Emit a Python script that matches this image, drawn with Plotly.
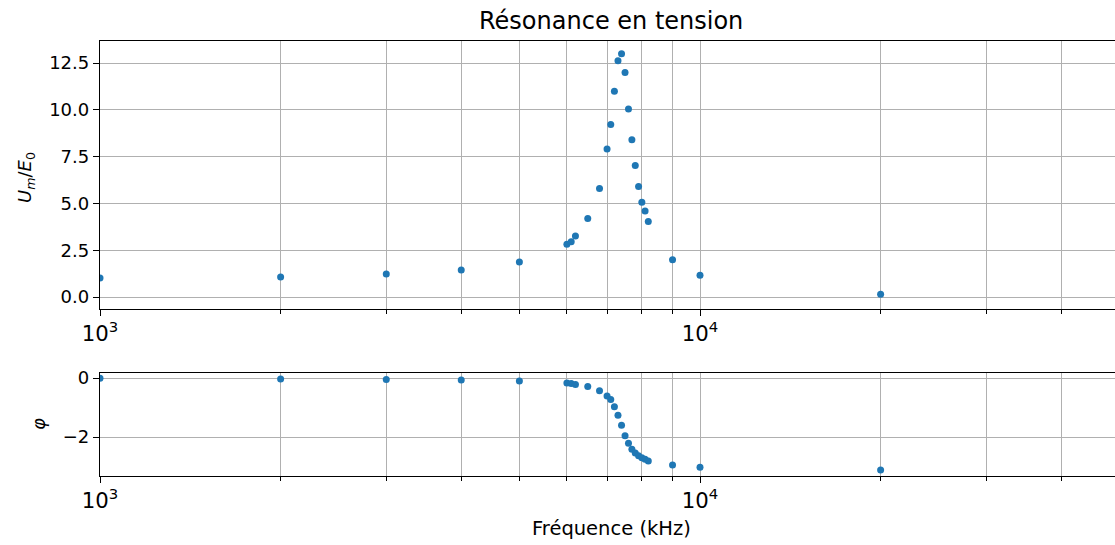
import plotly.graph_objects as go

# Frequencies (Hz)
freq = [1000, 2000, 3000, 4000, 5000, 6000, 6100, 6200, 6500, 6800, 7000, 7100,
        7200, 7300, 7400, 7500, 7600, 7700, 7800, 7900, 8000, 8100, 8200,
        9000, 10000, 20000]
# Um/E0
ratio = [1.01, 1.07, 1.23, 1.44, 1.87, 2.82, 2.95, 3.26, 4.20, 5.80, 7.91, 9.22,
         11.0, 12.62, 13.0, 12.0, 10.04, 8.40, 7.03, 5.91, 5.07, 4.59, 4.04,
         1.99, 1.16, 0.15]
# phase (rad)
phase = [-0.01, -0.03, -0.05, -0.07, -0.10, -0.17, -0.19, -0.22, -0.29, -0.43,
         -0.61, -0.73, -0.97, -1.26, -1.60, -1.96, -2.21, -2.41, -2.54, -2.63,
         -2.70, -2.75, -2.81, -2.95, -3.02, -3.12]

W, H = 1115, 545
L, R, T, B = 100, 0, 41, 69
PW, PH = W - L - R, H - T - B

def py(p):  # pixel y -> paper
    return (H - B - p) / PH

def px(p):
    return (p - L) / PW

color = "#1f77b4"
ytick_font = dict(family="DejaVu Sans", size=18, color="black")
xtick_font = dict(family="DejaVu Sans", size=17, color="black")
label_font = dict(family="DejaVu Sans", size=19.5, color="black")

fig = go.Figure()
fig.add_trace(go.Scatter(x=freq, y=ratio, mode="markers", xaxis="x", yaxis="y",
                         marker=dict(color=color, size=7), showlegend=False))
fig.add_trace(go.Scatter(x=freq, y=phase, mode="markers", xaxis="x2", yaxis="y2",
                         marker=dict(color=color, size=7), showlegend=False))

xr = [3, 3 + (W - L) / 600]
common_x = dict(type="log", range=xr, dtick=1, exponentformat="power",
                showline=True, linecolor="black", linewidth=1.3, mirror=True,
                ticks="outside", ticklen=6, tickwidth=1.2, tickcolor="black",
                showgrid=True, gridcolor="#b0b0b0", gridwidth=1.4,
                minor=dict(dtick="D1", ticks="outside", ticklen=3.5, tickwidth=1,
                           tickcolor="black", showgrid=True, gridcolor="#b0b0b0",
                           gridwidth=1.4),
                zeroline=False, tickfont=xtick_font)
common_y = dict(showline=True, linecolor="black", linewidth=1.3, mirror=True,
                ticks="outside", ticklen=6, tickwidth=1.2, tickcolor="black",
                showgrid=True, gridcolor="#b0b0b0", gridwidth=1.4,
                zeroline=False, tickfont=ytick_font)

fig.update_layout(
    width=W, height=H,
    margin=dict(l=L, r=R, t=T, b=B),
    plot_bgcolor="white", paper_bgcolor="white",
    font=ytick_font,
    xaxis=dict(common_x, domain=[0, 1], anchor="y"),
    yaxis=dict(common_y, domain=[py(309), 1], range=[-0.64, 13.68],
               tick0=0, dtick=2.5, tickformat=".1f", anchor="x"),
    xaxis2=dict(common_x, domain=[0, 1], anchor="y2"),
    yaxis2=dict(common_y, domain=[0, py(373)], range=[-3.32, 0.17],
                tick0=0, dtick=2, anchor="x2"),
    annotations=[
        dict(text="Résonance en tension", x=px(611), y=py(21), xref="paper", yref="paper",
             showarrow=False, font=dict(family="DejaVu Sans", size=24, color="black"),
             xanchor="center", yanchor="middle"),
        dict(text="Fréquence (kHz)", x=px(611), y=py(528), xref="paper", yref="paper",
             showarrow=False, font=label_font, xanchor="center", yanchor="middle"),
        dict(text="<i>U</i><sub><i>m</i></sub>/<i>E</i><sub>0</sub>", x=px(26), y=py(178),
             xref="paper", yref="paper", showarrow=False,
             font=dict(family="DejaVu Sans", size=18, color="black"), textangle=-90,
             xanchor="center", yanchor="middle"),
        dict(text="<i>φ</i>", x=px(38), y=py(424), xref="paper", yref="paper",
             showarrow=False, font=dict(family="DejaVu Sans", size=18, color="black"),
             textangle=-90, xanchor="center", yanchor="middle"),
    ],
)

fig.write_html("out.html")
